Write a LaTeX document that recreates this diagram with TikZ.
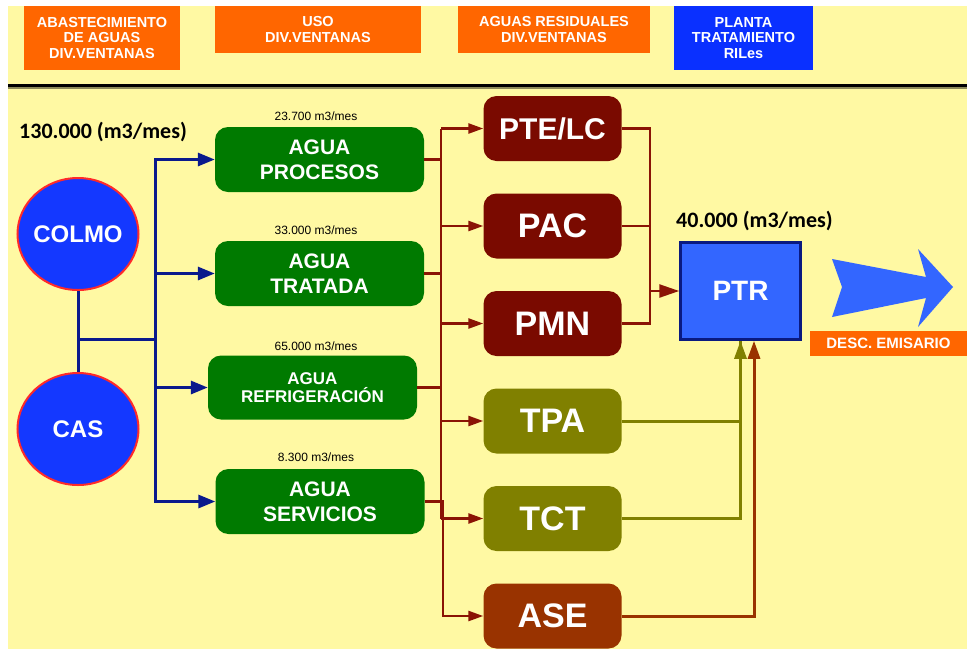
\documentclass[tikz,border=0pt]{standalone}
\usepackage{fontspec}
\setmainfont{Liberation Sans}
\newfontfamily\calib{Carlito}
\usetikzlibrary{positioning,shapes.geometric,arrows.meta}
\definecolor{bgyellow}{HTML}{FFF9A3}
\definecolor{hdorange}{HTML}{FF6600}
\definecolor{hdblue}{HTML}{0A30FF}
\definecolor{srcblue}{HTML}{1438FF}
\definecolor{srcred}{HTML}{FF2A2A}
\definecolor{navy}{HTML}{0A1A8C}
\definecolor{usogreen}{HTML}{007A00}
\definecolor{resred}{HTML}{7A0A00}
\definecolor{wine}{HTML}{8A1405}
\definecolor{olivebox}{HTML}{808000}
\definecolor{asebrown}{HTML}{993300}
\definecolor{ptrblue}{HTML}{3366FF}
\definecolor{ptrnavy}{HTML}{0A1A80}

\begin{document}
\begin{tikzpicture}[x=1pt,y=-1pt,
  head/.style={fill=#1, text=white, align=center, inner sep=0pt, font=\bfseries\fontsize{14.5}{15.5}\selectfont},
  src/.style={ellipse, fill=srcblue, draw=srcred, line width=2pt, inner xsep=-12pt, inner ysep=0pt, minimum width=121pt, minimum height=112pt, text=white, font=\bfseries\fontsize{24}{24}\selectfont},
  uso/.style={rounded corners=13pt, fill=usogreen, minimum width=209pt, minimum height=65pt, text=white, align=center, inner sep=0pt},
  res/.style={rounded corners=13pt, fill=#1, minimum width=138pt, minimum height=65pt, text=white, inner sep=0pt, font=\bfseries\fontsize{34}{34}\selectfont},
  qty/.style={inner sep=0pt, font=\fontsize{12}{12}\selectfont},
  total/.style={inner sep=0pt, anchor=west, font=\calib\bfseries\fontsize{22}{22}\selectfont},
  bline/.style={draw=navy, line width=3pt},
  rline/.style={draw=wine, line width=2.5pt},
  oline/.style={draw=olivebox, line width=3pt},
  aline/.style={draw=asebrown, line width=3pt}]

\useasboundingbox (0,0) rectangle (967,649);
\fill[white] (0,0) rectangle (967,649);
\fill[bgyellow] (8,6) rectangle (967,649);
\draw[line width=3pt] (8,85.3) -- (967,85.3);
\draw[line width=1.5pt, color=black!45!bgyellow] (8,88.2) -- (967,88.2);

\node[head=hdorange, minimum width=156pt, minimum height=64pt] at (102,38) (habast) {ABASTECIMIENTO\\DE AGUAS\\DIV.VENTANAS};
\node[head=hdorange, minimum width=206pt, minimum height=47pt] at (318,29.5) (huso) {USO\\DIV.VENTANAS};
\node[head=hdorange, minimum width=192pt, minimum height=47pt] at (554,29.5) (hresid) {AGUAS RESIDUALES\\DIV.VENTANAS};
\node[head=hdblue, minimum width=139pt, minimum height=64pt] at (743.5,38) (hplanta) {PLANTA\\TRATAMIENTO\\RILes};

\node[total] at (19,132) (totin) {130.000 (m3/mes)};
\node[src] at (78,234) (colmo) {COLMO};
\node[src] at (78,429) (cas) {CAS};

\node[uso, font=\bfseries\fontsize{21}{25}\selectfont] at (319.5,159.5) (proc) {AGUA\\PROCESOS};
\node[uso, font=\bfseries\fontsize{21}{25}\selectfont, node distance=114pt, below of=proc] (trat) {AGUA\\TRATADA};
\node[uso, font=\bfseries\fontsize{17}{18}\selectfont, minimum height=64pt, node distance=114pt, below of=trat, xshift=-7pt] (refr) {AGUA\\REFRIGERACIÓN};
\node[uso, font=\bfseries\fontsize{21}{25}\selectfont, node distance=114pt, below of=refr, xshift=7.5pt] (serv) {AGUA\\SERVICIOS};
\node[qty, above=6pt of proc, xshift=-3.5pt] (qproc) {23.700 m3/mes};
\node[qty, above=6pt of trat, xshift=-3.5pt] (qtrat) {33.000 m3/mes};
\node[qty, above=4pt of refr, xshift=3.5pt] (qrefr) {65.000 m3/mes};
\node[qty, above=7pt of serv, xshift=-4pt] (qserv) {8.300 m3/mes};

\node[res=resred, font=\bfseries\fontsize{30}{30}\selectfont] at (552.5,128.5) (pte) {PTE/LC};
\node[res=resred, node distance=97.5pt, below of=pte] (pac) {PAC};
\node[res=resred, node distance=97.5pt, below of=pac] (pmn) {PMN};
\node[res=olivebox, node distance=97.5pt, below of=pmn] (tpa) {TPA};
\node[res=olivebox, node distance=97.5pt, below of=tpa] (tct) {TCT};
\node[res=asebrown, node distance=97.5pt, below of=tct] (ase) {ASE};

\node[fill=ptrblue, draw=ptrnavy, line width=2.5pt, minimum width=120pt, minimum height=97pt, text=white, font=\bfseries\fontsize{28}{28}\selectfont] at (740.5,291) (ptr) {PTR};
\node[total] at (676,221) (totout) {40.000 (m3/mes)};
\fill[ptrblue] (832,259) -- (926,277) -- (918,249) -- (953,287) -- (918,327) -- (926,298) -- (832,317) -- (842,287) -- cycle;
\node[head=hdorange, minimum width=157pt, minimum height=25pt, font=\bfseries\fontsize{15}{15}\selectfont] at (888.5,343.5) (desc) {DESC. EMISARIO};

\coordinate (jn) at (78,339);
\coordinate (bus) at (155,339);
\draw[bline] (colmo) -- (cas);
\draw[bline] (jn) -- (bus);
\draw[bline, -{Triangle[length=17pt,width=13pt]}] (bus) |- (proc);
\draw[bline, -{Triangle[length=17pt,width=13pt]}] (bus) |- (trat);
\draw[bline, -{Triangle[length=17pt,width=13pt]}] (bus) |- (refr);
\draw[bline, -{Triangle[length=17pt,width=13pt]}] (bus) |- (serv);

\coordinate (rbus) at (441,330);
\coordinate (rbus2) at (443,560);
\draw[rline] (pte -| rbus) -- (tct -| rbus);
\draw[rline] (proc) -- (proc -| rbus);
\draw[rline] (trat) -- (trat -| rbus);
\draw[rline] (refr) -- (refr -| rbus);
\draw[rline, -{Triangle[length=15pt,width=10pt]}] (pte -| rbus) -- (pte);
\draw[rline, -{Triangle[length=15pt,width=10pt]}] (pac -| rbus) -- (pac);
\draw[rline, -{Triangle[length=15pt,width=10pt]}] (pmn -| rbus) -- (pmn);
\draw[rline, -{Triangle[length=15pt,width=10pt]}] (tpa -| rbus) -- (tpa);
\draw[rline, -{Triangle[length=15pt,width=10pt]}] (tct -| rbus) -- (tct);
\draw[rline, -{Triangle[length=15pt,width=10pt]}] (serv) -| (rbus2) |- (ase);

\coordinate (rjoin) at (650,291);
\draw[rline] (pte) -| (rjoin);
\draw[rline] (pmn) -| (rjoin);
\draw[rline] (pac) -- (pac -| rjoin);
\draw[rline, -{Triangle[length=20pt,width=13pt]}] (rjoin) -- (ptr);

\draw[oline] (tpa) -| (ptr.south);
\draw[oline, -{Triangle[length=18pt,width=12pt]}] (tct) -| (ptr.south);
\draw[aline, -{Triangle[length=18pt,width=12pt]}] (ase) -| ([xshift=13.5pt]ptr.south);
\end{tikzpicture}
\end{document}
